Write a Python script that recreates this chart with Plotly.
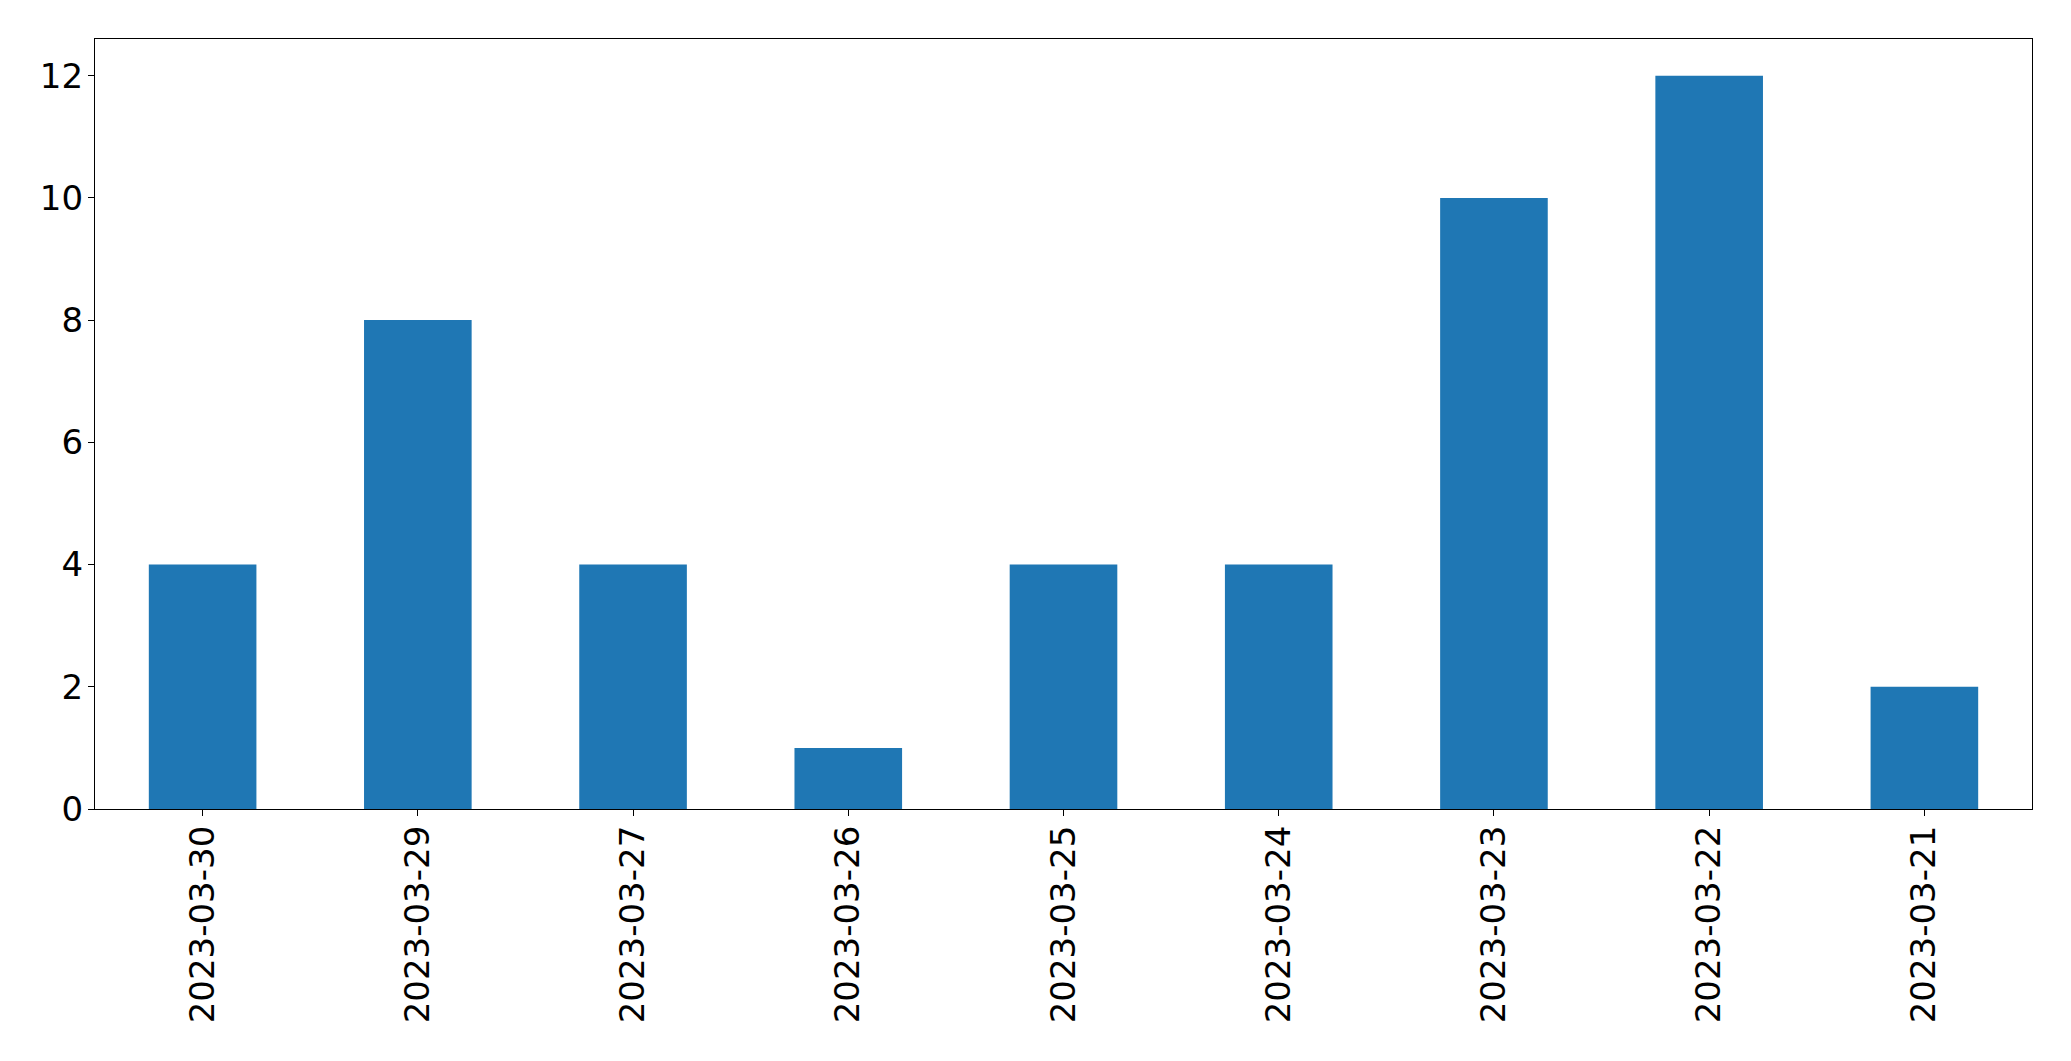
import plotly.graph_objects as go

dates = ["2023-03-30", "2023-03-29", "2023-03-27", "2023-03-26", "2023-03-25",
         "2023-03-24", "2023-03-23", "2023-03-22", "2023-03-21"]
counts = [4, 8, 4, 1, 4, 4, 10, 12, 2]
y_ticks = [0, 2, 4, 6, 8, 10, 12]

fig = go.Figure(go.Bar(x=dates, y=counts, marker=dict(color="#1f77b4", line=dict(width=0)), width=0.5))

fig.update_layout(
    template="none",
    width=2055, height=1045,
    margin=dict(l=87, r=31, t=31, b=244, pad=0),
    plot_bgcolor="white", paper_bgcolor="white",
    font=dict(family="DejaVu Sans", size=34, color="black"),
    showlegend=False,
)
fig.update_xaxes(
    automargin=False,
    type="category", range=[-0.5, len(dates) - 0.5],
    tickangle=-90, ticks="outside", ticklen=6, tickwidth=1.3, tickcolor="black",
    ticklabelstandoff=-4,
    showline=True, linecolor="black", linewidth=1.3, mirror=True,
    showgrid=False, zeroline=False,
)
fig.update_yaxes(
    automargin=False,
    range=[0, 12.6], tickvals=y_ticks, ticktext=[str(v) for v in y_ticks],
    ticks="outside", ticklen=6, tickwidth=1.3, tickcolor="black",
    ticklabelstandoff=-2,
    showline=True, linecolor="black", linewidth=1.3, mirror=True,
    showgrid=False, zeroline=False,
)
fig.write_html("out.html")
